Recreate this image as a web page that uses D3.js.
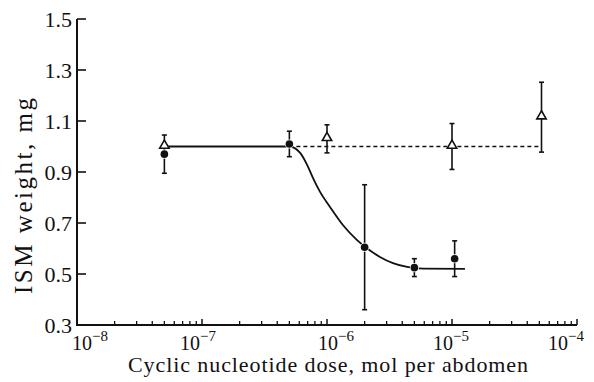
<!DOCTYPE html>
<html>
<head>
<meta charset="utf-8">
<script src="https://cdn.jsdelivr.net/npm/d3@7"></script>
<style>
  body { margin: 0; background: #fff; }
  svg { display: block; }
  text { font-family: "Liberation Serif", "Times New Roman", serif; fill: #111; }
</style>
</head>
<body>
<div id="chart"></div>
<script>
// data
const cyclicDose = [5e-8, 5e-7, 2e-6, 5e-6, 1.05e-5];
const cyclicWeight = [0.97, 1.01, 0.605, 0.525, 0.56];
const cyclicErr = [0.075, 0.05, 0.245, 0.035, 0.07];

const controlDose = [5e-8, 1e-6, 1e-5, 5.2e-5];
const controlWeight = [1.0, 1.03, 1.0, 1.115];
const controlErr = [0.0, 0.055, 0.09, 0.137];

// fitted curve
const curveDose = [5e-8, 5e-7, 6.1e-7, 6.9e-7, 7.7e-7, 8.8e-7, 1.06e-6, 1.34e-6, 1.74e-6, 2.05e-6, 2.65e-6, 3.37e-6, 4.37e-6, 5.86e-6, 1.27e-5];
const curveWeight = [1.0, 1.0, 0.975, 0.93, 0.878, 0.822, 0.762, 0.692, 0.633, 0.604, 0.567, 0.543, 0.528, 0.521, 0.52];

const flatDose = [5e-7, 5.2e-5];
const flatWeight = [1.0, 1.0];

const yTicks = [0.3, 0.5, 0.7, 0.9, 1.1, 1.3, 1.5];
const xTicks = [-8, -7, -6, -5, -4];

const width = 594, height = 382;
const margin = { top: 19, right: 17, bottom: 57, left: 77 };
// small nudges of the decade labels, as set in the original
const xLabelShift = { "-8": 13, "-7": -4, "-6": 9, "-5": -1, "-4": -11 };

const svg = d3.select("#chart").append("svg")
  .attr("width", width).attr("height", height);

const xScale = d3.scaleLog().domain([1e-8, 1e-4]).range([margin.left, width - margin.right]);
const yScale = d3.scaleLinear().domain([0.3, 1.5]).range([height - margin.bottom, margin.top]);

// minor ticks on x
const minor = [];
for (let e = -8; e < -4; e++) for (let m = 2; m <= 9; m++) minor.push(m * Math.pow(10, e));

const ax = svg.append("g").attr("stroke", "#111");
ax.selectAll(".mnr").data(minor).enter().append("line")
  .attr("x1", d => xScale(d)).attr("x2", d => xScale(d))
  .attr("y1", yScale(0.3)).attr("y2", yScale(0.3) - 4)
  .attr("stroke-width", 1.3);
ax.selectAll(".mjr").data(xTicks).enter().append("line")
  .attr("x1", d => xScale(Math.pow(10, d))).attr("x2", d => xScale(Math.pow(10, d)))
  .attr("y1", yScale(0.3)).attr("y2", yScale(0.3) - 6)
  .attr("stroke-width", 1.5);
ax.selectAll(".yt").data(yTicks).enter().append("line")
  .attr("x1", margin.left).attr("x2", margin.left + 9)
  .attr("y1", d => yScale(d)).attr("y2", d => yScale(d))
  .attr("stroke-width", 1.6);
ax.append("path")
  .attr("d", `M${margin.left},${yScale(1.5)}V${yScale(0.3)}H${xScale(1e-4)}`)
  .attr("fill", "none").attr("stroke-width", 2);

// tick labels
svg.selectAll(".ylab").data(yTicks).enter().append("text")
  .attr("x", margin.left - 5).attr("y", d => yScale(d) + 8)
  .attr("text-anchor", "end").attr("font-size", 22)
  .text(d => d.toFixed(1));

const xl = svg.selectAll(".xlab").data(xTicks).enter().append("text")
  .attr("x", d => xScale(Math.pow(10, d)) + xLabelShift[d]).attr("y", 350)
  .attr("text-anchor", "middle").attr("font-size", 20);
xl.append("tspan").text("10");
xl.append("tspan").attr("dy", -9).attr("font-size", 15).text(d => "\u2212" + Math.abs(d));

// axis titles
svg.append("text")
  .attr("x", (xScale(1e-8) + xScale(1e-4)) / 2 + 1).attr("y", 372)
  .attr("text-anchor", "middle").attr("font-size", 22)
  .attr("textLength", 400).attr("lengthAdjust", "spacing")
  .text("Cyclic nucleotide dose, mol per abdomen");
svg.append("text")
  .attr("transform", `translate(32, 196) rotate(-90)`)
  .attr("text-anchor", "middle").attr("font-size", 25)
  .attr("textLength", 196).attr("lengthAdjust", "spacing")
  .text("ISM weight, mg");

// lines
const line = d3.line()
  .x(d => xScale(d[0])).y(d => yScale(d[1]))
  .curve(d3.curveMonotoneX);

svg.append("path")
  .datum(flatDose.map((d, i) => [d, flatWeight[i]]))
  .attr("d", line).attr("fill", "none").attr("stroke", "#111")
  .attr("stroke-width", 1.5).attr("stroke-dasharray", "4,3");

svg.append("path")
  .datum(curveDose.map((d, i) => [d, curveWeight[i]]))
  .attr("d", line).attr("fill", "none").attr("stroke", "#111")
  .attr("stroke-width", 1.8);

// error bars
function errBars(doses, vals, errs) {
  const g = svg.append("g").attr("stroke", "#111").attr("stroke-width", 1.6);
  doses.forEach((d, i) => {
    if (!errs[i]) return;
    const x = xScale(d), y1 = yScale(vals[i] + errs[i]), y2 = yScale(vals[i] - errs[i]);
    g.append("line").attr("x1", x).attr("x2", x).attr("y1", y1).attr("y2", y2);
    g.append("line").attr("x1", x - 2.5).attr("x2", x + 2.5).attr("y1", y1).attr("y2", y1);
    g.append("line").attr("x1", x - 2.5).attr("x2", x + 2.5).attr("y1", y2).attr("y2", y2);
  });
}
errBars(cyclicDose, cyclicWeight, cyclicErr);
errBars(controlDose, controlWeight, controlErr);

// markers
svg.selectAll(".dot").data(cyclicDose).enter().append("circle")
  .attr("cx", d => xScale(d)).attr("cy", (d, i) => yScale(cyclicWeight[i]))
  .attr("r", 3.8).attr("fill", "#111").attr("stroke", "#fff").attr("stroke-width", 1.5)
  .attr("paint-order", "stroke");

const tri = d3.symbol().type(d3.symbolTriangle).size(38);
svg.selectAll(".tri").data(controlDose).enter().append("path")
  .attr("d", tri)
  .attr("transform", (d, i) => `translate(${xScale(d)},${yScale(controlWeight[i]) - 1})`)
  .attr("fill", "#fff").attr("stroke", "#111").attr("stroke-width", 1.6);
</script>
</body>
</html>
